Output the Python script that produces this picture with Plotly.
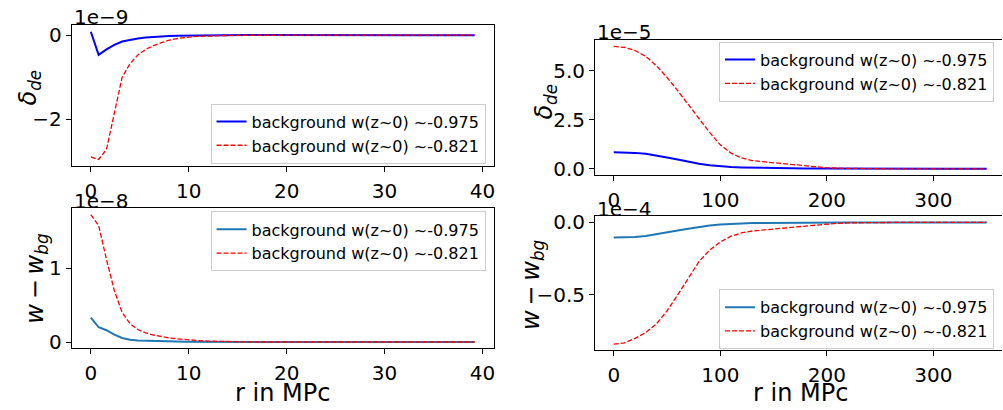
import plotly.graph_objects as go

# ---------------- data ----------------
# left column: r in MPc (0 .. 39.2)
r_small = [0.0, 0.8, 1.6, 2.4, 3.2, 4.0, 4.8, 5.6, 6.4, 7.2,
           8.0, 8.8, 9.6, 10.4, 11.2, 12.0, 12.8, 13.6, 14.4, 15.2,
           16.0, 16.8, 17.6, 18.4, 19.2, 20.0, 20.8, 21.6, 22.4, 23.2,
           24.0, 24.8, 25.6, 26.4, 27.2, 28.0, 28.8, 29.6, 30.4, 31.2,
           32.0, 32.8, 33.6, 34.4, 35.2, 36.0, 36.8, 37.6, 38.4, 39.2]

# delta_de (units 1e-9)
dde_small_975 = [0.08, -0.47, -0.34, -0.23, -0.15, -0.11, -0.08, -0.055, -0.04, -0.03,
                 -0.022, -0.016, -0.012, -0.008, -0.005, -0.003, -0.001, 0.002, 0.006, 0.008,
                 0.005, 0.002, 0.001, 0.0, 0.0, 0.0, 0.0, 0.0, 0.0, 0.0,
                 0.0, 0.0, 0.0, 0.0, 0.0, 0.0, 0.0, 0.0, 0.0, 0.0,
                 0.0, 0.0, 0.0, 0.0, 0.0, 0.0, 0.0, 0.0, 0.0, 0.0]
dde_small_821 = [-2.90, -2.96, -2.72, -1.90, -1.00, -0.68, -0.47, -0.34, -0.25, -0.18,
                 -0.12, -0.08, -0.055, -0.038, -0.026, -0.017, -0.011, -0.007, -0.004, -0.002,
                 -0.001, 0.0, 0.0, 0.0, 0.0, 0.0, 0.0, 0.0, 0.0, 0.0,
                 0.0, 0.0, 0.0, 0.0, 0.0, 0.0, 0.0, 0.0, 0.0, 0.0,
                 0.0, 0.0, 0.0, 0.0, 0.0, 0.0, 0.0, 0.0, 0.0, 0.0]

# w - w_bg (units 1e-8)
dw_small_975 = [0.33, 0.20, 0.16, 0.10, 0.055, 0.032, 0.022, 0.017, 0.013, 0.010,
                0.008, 0.006, 0.004, 0.003, 0.002, 0.001, 0.0, 0.0, 0.0, 0.0,
                0.0, 0.0, 0.0, 0.0, 0.0, 0.0, 0.0, 0.0, 0.0, 0.0,
                0.0, 0.0, 0.0, 0.0, 0.0, 0.0, 0.0, 0.0, 0.0, 0.0,
                0.0, 0.0, 0.0, 0.0, 0.0, 0.0, 0.0, 0.0, 0.0, 0.0]
dw_small_821 = [1.73, 1.58, 1.12, 0.70, 0.40, 0.25, 0.17, 0.125, 0.095, 0.073,
                0.056, 0.043, 0.032, 0.024, 0.017, 0.012, 0.008, 0.005, 0.003, 0.002,
                0.001, 0.0, 0.0, 0.0, 0.0, 0.0, 0.0, 0.0, 0.0, 0.0,
                0.0, 0.0, 0.0, 0.0, 0.0, 0.0, 0.0, 0.0, 0.0, 0.0,
                0.0, 0.0, 0.0, 0.0, 0.0, 0.0, 0.0, 0.0, 0.0, 0.0]

# right column: r in MPc (0 .. 350)
r_large = [0, 10, 20, 30, 40, 50, 60, 70, 80, 90,
           100, 110, 120, 130, 140, 150, 160, 170, 180, 190,
           200, 210, 220, 230, 240, 250, 260, 270, 280, 290,
           300, 310, 320, 330, 340, 350]

# delta_de (units 1e-5)
dde_large_975 = [0.84, 0.835, 0.81, 0.76, 0.68, 0.58, 0.47, 0.36, 0.26, 0.18,
                 0.12, 0.085, 0.065, 0.052, 0.043, 0.035, 0.028, 0.022, 0.016, 0.011,
                 0.007, 0.004, 0.002, 0.001, 0.0, 0.0, 0.0, 0.0, 0.0, 0.0,
                 0.0, 0.0, 0.0, 0.0, 0.0, 0.0]
dde_large_821 = [6.23, 6.18, 6.02, 5.72, 5.25, 4.65, 3.98, 3.28, 2.55, 1.85,
                 1.22, 0.80, 0.55, 0.42, 0.36, 0.31, 0.26, 0.20, 0.14, 0.09,
                 0.05, 0.03, 0.015, 0.008, 0.004, 0.002, 0.0, 0.0, 0.0, 0.0,
                 0.0, 0.0, 0.0, 0.0, 0.0, 0.0]

# w - w_bg (units 1e-4)
dw_large_975 = [-0.104, -0.103, -0.100, -0.093, -0.082, -0.070, -0.056, -0.043, -0.031, -0.021,
                -0.014, -0.009, -0.006, -0.004, -0.003, -0.002, -0.0015, -0.001, -0.0007, -0.0004,
                -0.0002, 0.0, 0.0, 0.0, 0.0, 0.0, 0.0, 0.0, 0.0, 0.0,
                0.0, 0.0, 0.0, 0.0, 0.0, 0.0]
dw_large_821 = [-0.840, -0.830, -0.800, -0.760, -0.700, -0.610, -0.500, -0.380, -0.270, -0.190,
                -0.135, -0.095, -0.072, -0.059, -0.051, -0.045, -0.039, -0.032, -0.025, -0.018,
                -0.011, -0.006, -0.003, -0.001, 0.0, 0.0, 0.0, 0.0, 0.0, 0.0,
                0.0, 0.0, 0.0, 0.0, 0.0, 0.0]

label_975 = "background w(z~0) ~-0.975"
label_821 = "background w(z~0) ~-0.821"
offsets = ["1e\u22129", "1e\u22128", "1e\u22125", "1e\u22124"]
ylabel_dde = "<i>\u03b4</i><sub><i>de</i></sub>"
ylabel_dw = "<i>w</i>\u2009\u2212\u2009<i>w</i><sub><i>bg</i></sub>"
xlabel = "r in MPc"

# ---------------- layout helpers ----------------
W, H = 1003, 410
FONT = "DejaVu Sans"


def px_x(p):
    return p / W


def px_y(p):
    return 1 - p / H


def mrange(vals_list, margin=0.05):
    lo = min(min(v) for v in vals_list)
    hi = max(max(v) for v in vals_list)
    span = hi - lo
    return [lo - margin * span, hi + margin * span]


fig = go.Figure()

BLUE = "#0000ff"
TAB_BLUE = "#1f77b4"
RED = "#ff0000"

panels = [
    # (xaxis, yaxis, legend, x, y975, y821, color975, x_px, y_px)
    ("x", "y", "legend", r_small, dde_small_975, dde_small_821, BLUE, (71.7, 494.3), (20.0, 164.7)),
    ("x2", "y2", "legend2", r_small, dw_small_975, dw_small_821, TAB_BLUE, (71.7, 494.3), (208.3, 352.7)),
    ("x3", "y3", "legend3", r_large, dde_large_975, dde_large_821, BLUE, (595.7, 1006.3), (35.3, 174.0)),
    ("x4", "y4", "legend4", r_large, dw_large_975, dw_large_821, TAB_BLUE, (595.7, 1006.3), (216.7, 354.7)),
]

for i, (xa, ya, lg, xs, y1, y2, c1, xpx, ypx) in enumerate(panels):
    fig.add_trace(go.Scatter(x=xs, y=y1, mode="lines", name=label_975,
                             line=dict(color=c1, width=2), xaxis=xa, yaxis=ya,
                             legend=lg, legendgroup=f"a{i}", showlegend=True))
    fig.add_trace(go.Scatter(x=xs, y=y2, mode="lines", name=label_821,
                             line=dict(color=RED, width=1.3, dash="5px,2px"), xaxis=xa, yaxis=ya,
                             legend=lg, legendgroup=f"b{i}", showlegend=True))

axis_common = dict(showgrid=False, zeroline=False, showline=True, linecolor="black", linewidth=1,
                   ticks="outside", ticklen=5, tickwidth=1, tickcolor="black",
                   tickfont=dict(family=FONT, size=20, color="black"))

xticks_small = [0, 10, 20, 30, 40]
xticks_large = [0, 100, 200, 300]
yticks = [[-2, 0], [0, 1], [0.0, 2.5, 5.0], [-0.5, 0.0]]
ytickfmt = ["d", "d", ".1f", ".1f"]

layout = {}
for i, (xa, ya, lg, xs, y1, y2, c1, xpx, ypx) in enumerate(panels):
    n = "" if i == 0 else str(i + 1)
    xr = mrange([xs])
    yr = mrange([y1, y2])
    right_col = i >= 2
    x0p, x1p = xpx
    if x1p > W:
        # axis extends past the canvas edge: clip domain and range together
        frac = (W - x0p) / (x1p - x0p)
        xr = [xr[0], xr[0] + frac * (xr[1] - xr[0])]
        x1p = W
    layout["xaxis" + n] = dict(axis_common, domain=[px_x(x0p), min(1.0, px_x(x1p))],
                               range=xr, anchor="y" + n, mirror=True, ticklabelstandoff=2,
                               tickvals=xticks_large if right_col else xticks_small)
    layout["yaxis" + n] = dict(axis_common, domain=[px_y(ypx[1]), px_y(ypx[0])],
                               range=yr, anchor="x" + n, mirror=not right_col,
                               tickvals=yticks[i], tickformat=ytickfmt[i])

legend_common = dict(font=dict(family=FONT, size=16, color="black"), bordercolor="#cccccc",
                     borderwidth=1, bgcolor="rgba(255,255,255,0.8)", tracegroupgap=0,
                     xref="paper", yref="paper", itemwidth=30)
layout["legend"] = dict(legend_common, x=px_x(486), y=px_y(131.4), xanchor="right", yanchor="middle")
layout["legend2"] = dict(legend_common, x=px_x(486), y=px_y(242.5), xanchor="right", yanchor="middle")
layout["legend3"] = dict(legend_common, x=px_x(995), y=px_y(67.7), xanchor="right", yanchor="middle")
layout["legend4"] = dict(legend_common, x=px_x(995), y=px_y(322.7), xanchor="right", yanchor="middle")

annotations = []
# offset texts
off_pos = [(71.7, 11), (71.7, 200.5), (595.7, 27), (595.7, 209)]
for t, (ax, ay) in zip(offsets, off_pos):
    annotations.append(dict(text=t, x=px_x(ax), y=px_y(ay), xref="paper", yref="paper",
                            xanchor="left", yanchor="middle", showarrow=False,
                            font=dict(family=FONT, size=20, color="black")))
# y labels
ylab_pos = [(ylabel_dde, 30, 84), (ylabel_dw, 37, 281), (ylabel_dde, 546, 98), (ylabel_dw, 533, 287)]
for t, ax, ay in ylab_pos:
    annotations.append(dict(text=t, x=px_x(ax), y=px_y(ay), xref="paper", yref="paper",
                            xanchor="center", yanchor="middle", showarrow=False, textangle=-90,
                            font=dict(family=FONT, size=24, color="black")))
# x labels
for ax in [(71.7 + 494.3) / 2, (595.7 + 1006.3) / 2]:
    annotations.append(dict(text=xlabel, x=px_x(ax), y=px_y(399), xref="paper", yref="paper",
                            xanchor="center", yanchor="middle", showarrow=False,
                            font=dict(family=FONT, size=24, color="black")))

layout["annotations"] = annotations
fig.update_layout(**layout)
fig.update_layout(width=W, height=H, margin=dict(l=0, r=0, t=0, b=0),
                  paper_bgcolor="white", plot_bgcolor="white",
                  font=dict(family=FONT, color="black"), showlegend=True)

fig.write_html("out.html")
